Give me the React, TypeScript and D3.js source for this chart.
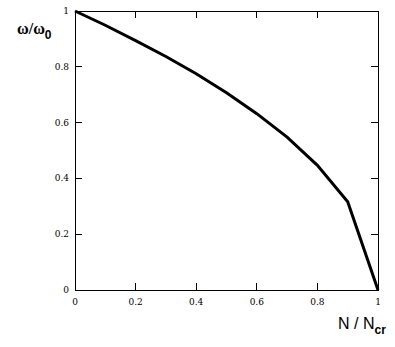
import React, { useEffect, useRef } from 'react';
import * as d3 from 'd3';

const ratioN = [0, 0.1, 0.2, 0.3, 0.4, 0.5, 0.6, 0.7, 0.8, 0.9, 1];
const ratioOmega = [1, 0.949, 0.894, 0.837, 0.775, 0.707, 0.632, 0.548, 0.447, 0.316, 0];
const tickValues = [0, 0.2, 0.4, 0.6, 0.8, 1];

export default function App() {
    const ref = useRef<SVGSVGElement | null>(null);

    useEffect(() => {
        const svgEl = ref.current;
        if (!svgEl) return;
        const svg = d3.select(svgEl);
        svg.selectAll('*').remove();

        const left = 75, right = 378, top = 11, bottom = 290;
        const x = d3.scaleLinear().domain([0, 1]).range([left, right]);
        const y = d3.scaleLinear().domain([0, 1]).range([bottom, top]);

        svg.append('rect')
            .attr('x', left).attr('y', top)
            .attr('width', right - left).attr('height', bottom - top)
            .attr('fill', 'none').attr('stroke', '#000').attr('stroke-width', 1)
            .attr('shape-rendering', 'crispEdges');

        const tickLen = 7;
        const g = svg.append('g').attr('shape-rendering', 'crispEdges')
            .attr('stroke', '#000').attr('stroke-width', 1);
        tickValues.slice(1, -1).forEach(t => {
            g.append('line').attr('x1', x(t)).attr('x2', x(t)).attr('y1', bottom).attr('y2', bottom - tickLen);
            g.append('line').attr('x1', x(t)).attr('x2', x(t)).attr('y1', top).attr('y2', top + tickLen);
            g.append('line').attr('y1', y(t)).attr('y2', y(t)).attr('x1', left).attr('x2', left + tickLen);
            g.append('line').attr('y1', y(t)).attr('y2', y(t)).attr('x1', right).attr('x2', right - tickLen);
        });

        const font = '"DejaVu Serif", "Liberation Serif", serif';
        svg.append('g').selectAll('text').data(tickValues).join('text')
            .attr('x', d => x(d)).attr('y', bottom + 15)
            .attr('text-anchor', 'middle')
            .style('font-family', font).style('font-size', '9px')
            .text(d => String(d));
        svg.append('g').selectAll('text').data(tickValues).join('text')
            .attr('x', left - 6).attr('y', d => y(d) + 3)
            .attr('text-anchor', 'end')
            .style('font-family', font).style('font-size', '9px')
            .text(d => String(d));

        const line = d3.line<number>()
            .x((d, i) => x(ratioN[i]))
            .y(d => y(d));
        svg.append('path')
            .datum(ratioOmega)
            .attr('d', line)
            .attr('fill', 'none').attr('stroke', '#000')
            .attr('stroke-width', 3).attr('stroke-linejoin', 'miter');

        const yl = svg.append('text').attr('x', 17).attr('y', 34)
            .style('font-family', '"Liberation Serif", serif').style('font-size', '16px').style('font-weight', 'bold');
        yl.append('tspan').text('ω/ω');
        yl.append('tspan').attr('dy', 5).style('font-family', '"Liberation Sans", Arial, sans-serif').style('font-size', '12px').text('0');

        const xl = svg.append('text').attr('x', 338).attr('y', 329)
            .style('font-family', '"Liberation Sans", Arial, sans-serif').style('font-size', '16px');
        xl.append('tspan').text('N / N');
        xl.append('tspan').attr('dy', 5).style('font-size', '12px').style('font-weight', 'bold').text('cr');
    }, []);

    return (
        <svg ref={ref} width={395} height={347}
            style={{ position: 'absolute', left: 0, top: 0, background: '#fff' }} />
    );
}
